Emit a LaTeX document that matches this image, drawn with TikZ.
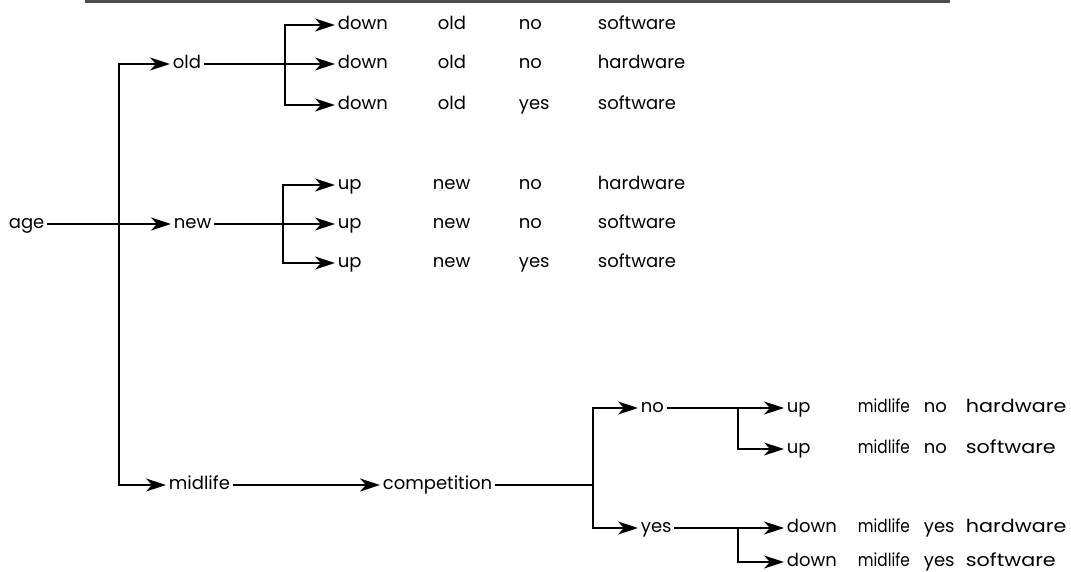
\documentclass[tikz,border=0pt]{standalone}
\usepackage{fontspec}
\setmainfont{Poppins}
\usetikzlibrary{arrows.meta}

\tikzset{
  lbl/.style={anchor=west, inner sep=2pt, text height=13pt, text depth=4pt,
    font=\fontsize{18}{20}\selectfont},
  arr/.style={-{Stealth[length=20pt,width=13pt,inset=6pt]}},
}
\newcommand{\narrow}[1]{\scalebox{0.85}[1]{#1}}
\newcommand{\wide}[1]{\scalebox{1.15}[1]{#1}}

\begin{document}
\begin{tikzpicture}[x=1pt, y=-1pt, line width=1.8pt]
\useasboundingbox (0,0) rectangle (1071,572);
% rule at the top of the scanned page
\draw[black!70, line width=3pt] (85,1.5) -- (950,1.5);
% inner nodes
\node[lbl] (age) at (6,224) {age};
\node[lbl] (old) at (170,64) {old};
\node[lbl] (new) at (171,224) {new};
\node[lbl] (midlife) at (166,485) {midlife};
\node[lbl] (comp) at (380,485) {competition};
\node[lbl] (no) at (638,408) {no};
\node[lbl] (yes) at (638,528) {yes};
% leaves of old
\node[lbl] (d1) at (335,25) {down};
\node[lbl] (d1b) at (435,25) {old};
\node[lbl] (d1c) at (516,25) {no};
\node[lbl] (d1d) at (595,25) {software};
\node[lbl] (d2) at (335,64) {down};
\node[lbl] (d2b) at (435,64) {old};
\node[lbl] (d2c) at (516,64) {no};
\node[lbl] (d2d) at (595,64) {hardware};
\node[lbl] (d3) at (335,105) {down};
\node[lbl] (d3b) at (435,105) {old};
\node[lbl] (d3c) at (516,105) {yes};
\node[lbl] (d3d) at (595,105) {software};
% leaves of new
\node[lbl] (u1) at (335,185) {up};
\node[lbl] (u1b) at (430,185) {new};
\node[lbl] (u1c) at (516,185) {no};
\node[lbl] (u1d) at (595,185) {hardware};
\node[lbl] (u2) at (335,224) {up};
\node[lbl] (u2b) at (430,224) {new};
\node[lbl] (u2c) at (516,224) {no};
\node[lbl] (u2d) at (595,224) {software};
\node[lbl] (u3) at (335,263) {up};
\node[lbl] (u3b) at (430,263) {new};
\node[lbl] (u3c) at (516,263) {yes};
\node[lbl] (u3d) at (595,263) {software};
% leaves of midlife
\node[lbl] (mu1) at (784,408) {up};
\node[lbl] (mu1b) at (855,408) {\narrow{midlife}};
\node[lbl] (mu1c) at (921,408) {no};
\node[lbl] (mu1d) at (963,408) {\wide{hardware}};
\node[lbl] (mu2) at (784,449) {up};
\node[lbl] (mu2b) at (855,449) {\narrow{midlife}};
\node[lbl] (mu2c) at (921,449) {no};
\node[lbl] (mu2d) at (963,449) {\wide{software}};
\node[lbl] (md1) at (784,528) {down};
\node[lbl] (md1b) at (855,528) {\narrow{midlife}};
\node[lbl] (md1c) at (921,528) {yes};
\node[lbl] (md1d) at (963,528) {\wide{hardware}};
\node[lbl] (md2) at (784,562) {down};
\node[lbl] (md2b) at (855,562) {\narrow{midlife}};
\node[lbl] (md2c) at (921,562) {yes};
\node[lbl] (md2d) at (963,562) {\wide{software}};
% branch points
\coordinate (jage) at (119,224);
\coordinate (jold) at (285,64);
\coordinate (jnew) at (283,224);
\coordinate (jcomp) at (593,485);
\coordinate (jno) at (738,408);
\coordinate (jyes) at (738,528);
% connectors
\draw[arr] (age) -- (new);
\draw[arr] (jage) |- (old);
\draw[arr] (jage) |- (midlife);
\draw[arr] (old) -- (d2);
\draw[arr] (jold) |- (d1);
\draw[arr] (jold) |- (d3);
\draw[arr] (new) -- (u2);
\draw[arr] (jnew) |- (u1);
\draw[arr] (jnew) |- (u3);
\draw[arr] (midlife) -- (comp);
\draw (comp) -- (jcomp);
\draw[arr] (jcomp) |- (no);
\draw[arr] (jcomp) |- (yes);
\draw[arr] (no) -- (mu1);
\draw[arr] (jno) |- (mu2);
\draw[arr] (yes) -- (md1);
\draw[arr] (jyes) |- (md2);
\end{tikzpicture}
\end{document}
